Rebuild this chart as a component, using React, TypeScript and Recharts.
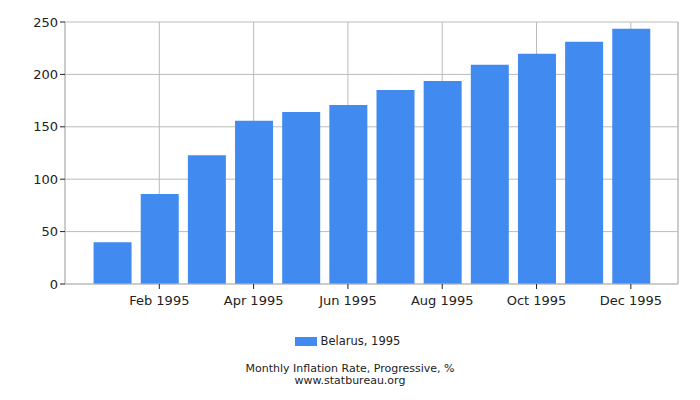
import React from 'react';
import {
  BarChart, Bar, XAxis, YAxis, CartesianGrid, Legend, ReferenceLine,
} from 'recharts';

// Month index (1 = Jan) and cumulative inflation, %
const months = ['Jan', 'Feb', 'Mar', 'Apr', 'May', 'Jun', 'Jul', 'Aug', 'Sep', 'Oct', 'Nov', 'Dec'];
const monthIndex = [1, 2, 3, 4, 5, 6, 7, 8, 9, 10, 11, 12];
const inflation = [39.8, 85.8, 122.9, 155.7, 164.1, 170.8, 185.2, 193.8, 209.1, 219.6, 231.1, 243.6];
const xTicks = [2, 4, 6, 8, 10, 12];
const yTicks = [0, 50, 100, 150, 200, 250];
const seriesName = 'Belarus, 1995';

const data = monthIndex.map((m, i) => ({ m, value: inflation[i] }));

const FONT = '"DejaVu Sans", sans-serif';
const BAR = '#418bf0';
const GRID = '#bbbbbb';

const LegendContent = ({ payload }: { payload?: any[] }) => (
  <div style={{ display: 'flex', justifyContent: 'center', alignItems: 'center', height: 20, paddingLeft: 17 }}>
    {(payload ?? []).map((p) => (
      <div key={p.value} style={{ display: 'flex', alignItems: 'center' }}>
        <span style={{ display: 'inline-block', width: 22, height: 9, background: p.color, marginRight: 4 }} />
        <span style={{ color: '#222', fontSize: 11.5, fontFamily: FONT }}>{p.value}</span>
      </div>
    ))}
  </div>
);

export default function App() {
  return (
    <div style={{ position: 'absolute', left: 0, top: 0, width: 700, height: 400, background: '#fff', fontFamily: FONT }}>
      <BarChart
        width={700}
        height={400}
        data={data}
        margin={{ top: 22, right: 22, left: 0, bottom: 49 }}
      >
        <CartesianGrid stroke={GRID} />
        <XAxis
          dataKey="m"
          type="number"
          domain={[0, 13]}
          ticks={xTicks}
          tickFormatter={(v) => `${months[v - 1]} 1995`}
          tick={{ fill: '#222', fontSize: 13, fontFamily: FONT }}
          tickLine={{ stroke: '#222' }}
          tickSize={5}
          tickMargin={7}
          axisLine={{ stroke: GRID }}
          height={47}
          interval={0}
        />
        <YAxis
          domain={[0, 250]}
          ticks={yTicks}
          tick={{ fill: '#222', fontSize: 13, fontFamily: FONT }}
          tickLine={{ stroke: '#222' }}
          tickSize={5}
          axisLine={{ stroke: GRID }}
          width={65}
          interval={0}
        />
        <ReferenceLine x={13} stroke={GRID} />
        <Legend verticalAlign="bottom" height={20} content={<LegendContent />} />
        <Bar dataKey="value" name={seriesName} fill={BAR} barSize={38} isAnimationActive={false} />
      </BarChart>
      <div style={{ position: 'absolute', top: 363, width: 700, textAlign: 'center', fontSize: 11, lineHeight: '12px', color: '#222' }}>
        Monthly Inflation Rate, Progressive, %
        <br />
        www.statbureau.org
      </div>
    </div>
  );
}
